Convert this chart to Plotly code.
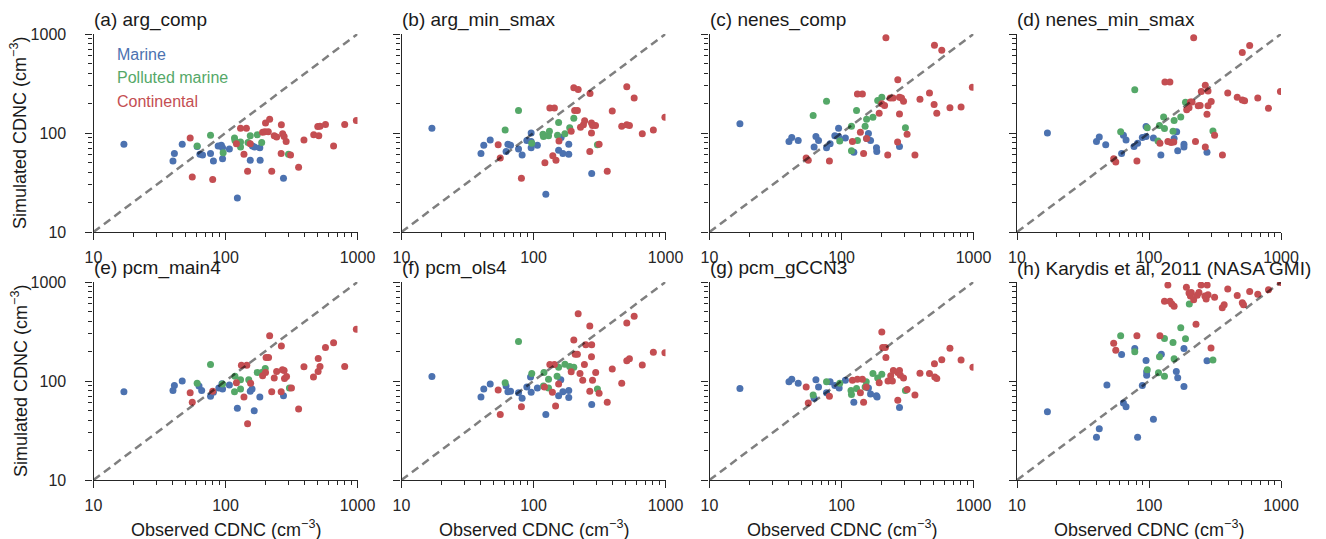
import plotly.graph_objects as go
from plotly.subplots import make_subplots

# ---------------- data (observed x, simulated y) ----------------
a_mar_x = [17, 47, 41, 40, 61, 64, 67, 77, 81, 88, 93, 95, 95, 107, 123, 154, 160, 166, 182, 183, 275]
a_mar_y = [77, 77, 62, 52, 73, 61, 60, 62, 52, 74, 75, 71, 55, 69, 22, 53, 74, 72, 71, 53, 35]
a_pol_x = [61, 77, 96, 117, 118, 130, 130, 148, 154, 174, 188, 300]
a_pol_y = [74, 95, 63, 89, 84, 81, 72, 80, 94, 96, 80, 61]
a_con_x = [54, 56, 80, 121, 130, 144, 138, 147, 154, 191, 201, 199, 211, 216, 224, 234, 244, 265, 271, 278,
           288, 264, 311, 358, 393, 466, 500, 509, 520, 572, 659, 800, 980]
a_con_y = [89, 36, 34, 78, 112, 112, 61, 41, 78, 102, 126, 103, 103, 138, 41, 94, 91, 121, 98, 92,
           82, 62, 60, 45, 85, 96, 116, 94, 117, 122, 74, 122, 134]

b_mar_x = [17, 40, 42, 47, 62, 64, 67, 77, 82, 89, 96, 96, 96, 107, 124, 155, 162, 167, 185, 185, 276]
b_mar_y = [112, 62, 75, 85, 65, 77, 75, 69, 60, 84, 100, 82, 71, 75, 24, 67, 90, 62, 77, 61, 39]
b_pol_x = [77, 61, 97, 119, 118, 130, 132, 152, 155, 173, 188, 202, 305]
b_pol_y = [169, 107, 79, 92, 97, 94, 104, 95, 128, 98, 113, 141, 76]
b_con_x = [54, 56, 81, 122, 133, 144, 140, 148, 156, 193, 202, 218, 205, 215, 227, 239, 244, 268, 267, 275,
           280, 295, 275, 314, 362, 395, 466, 509, 509, 533, 579, 667, 809, 990]
b_con_y = [76, 56, 35, 50, 179, 179, 59, 53, 83, 104, 286, 275, 169, 169, 114, 121, 133, 251, 65, 126,
           119, 119, 100, 77, 41, 167, 117, 293, 121, 119, 226, 98, 107, 144]

c_mar_x = [17, 40, 42, 47, 62, 64, 67, 77, 82, 89, 95, 95, 107, 124, 155, 160, 166, 184, 185, 275]
c_mar_y = [124, 82, 90, 84, 72, 92, 84, 71, 78, 94, 112, 92, 89, 64, 88, 99, 84, 71, 65, 73]
c_pol_x = [61, 77, 97, 119, 119, 130, 132, 151, 155, 173, 188, 202, 305]
c_pol_y = [150, 209, 83, 117, 66, 169, 84, 117, 138, 144, 213, 230, 113]
c_con_x = [54, 56, 81, 121, 132, 144, 139, 147, 155, 193, 202, 212, 217, 224, 234, 246, 267, 275, 285, 295,
           275, 266, 314, 360, 393, 464, 506, 575, 503, 527, 663, 805, 980]
c_con_y = [56, 53, 52, 82, 247, 247, 102, 62, 88, 158, 197, 190, 917, 60, 226, 226, 346, 230, 226, 209,
           156, 81, 97, 60, 219, 253, 771, 686, 194, 158, 180, 183, 289]

d_mar_x = [17, 40, 42, 47, 62, 64, 67, 77, 82, 89, 95, 95, 108, 123, 155, 162, 165, 184, 184, 275]
d_mar_y = [100, 82, 91, 76, 62, 95, 85, 73, 79, 90, 116, 92, 89, 60, 88, 103, 66, 77, 72, 64]
d_pol_x = [61, 78, 97, 117, 120, 131, 129, 152, 155, 174, 189, 305]
d_pol_y = [103, 273, 113, 83, 119, 111, 145, 104, 134, 145, 205, 105]
d_con_x = [54, 56, 81, 121, 132, 144, 139, 147, 154, 193, 201, 206, 212, 218, 225, 236, 244, 249, 267, 280,
           267, 275, 280, 296, 314, 360, 395, 466, 509, 579, 509, 530, 667, 804, 990]
d_con_y = [55, 51, 52, 79, 328, 328, 82, 80, 81, 172, 180, 206, 206, 917, 82, 189, 190, 263, 303, 265,
           72, 155, 189, 208, 95, 60, 253, 230, 649, 765, 216, 212, 226, 178, 263]

e_mar_x = [17, 40, 41, 47, 63, 66, 77, 81, 89, 94, 95, 107, 123, 154, 159, 165, 182, 275]
e_mar_y = [78, 80, 90, 100, 89, 80, 70, 77, 85, 94, 83, 91, 53, 79, 83, 50, 69, 71]
e_pol_x = [61, 77, 95, 117, 118, 130, 130, 150, 174, 188, 200, 305]
e_pol_y = [95, 147, 93, 78, 112, 103, 83, 103, 122, 122, 134, 85]
e_con_x = [54, 56, 80, 121, 132, 145, 155, 138, 147, 191, 201, 216, 203, 212, 224, 234, 244, 265, 270, 278,
           280, 290, 264, 316, 358, 393, 464, 504, 503, 520, 572, 659, 800, 980]
e_con_y = [76, 61, 79, 96, 144, 144, 95, 69, 37, 113, 122, 286, 173, 173, 78, 107, 125, 226, 130, 128,
           106, 111, 78, 85, 52, 139, 110, 169, 125, 140, 218, 243, 140, 333]

f_mar_x = [17, 40, 42, 47, 62, 64, 67, 77, 82, 89, 95, 96, 107, 124, 155, 161, 167, 185, 185, 276]
f_mar_y = [111, 69, 83, 93, 89, 78, 79, 76, 67, 87, 110, 77, 85, 46, 71, 103, 78, 80, 68, 58]
f_pol_x = [61, 77, 97, 119, 130, 120, 130, 151, 155, 173, 188, 202, 305]
f_pol_y = [96, 251, 119, 89, 85, 122, 104, 112, 138, 148, 140, 138, 83]
f_con_x = [54, 56, 81, 121, 133, 144, 139, 147, 155, 193, 202, 207, 215, 218, 225, 236, 243, 249, 267, 276,
           275, 280, 296, 267, 314, 362, 395, 466, 509, 579, 509, 533, 667, 809, 990]
f_con_y = [81, 46, 55, 87, 147, 147, 77, 56, 93, 124, 259, 186, 186, 478, 119, 102, 147, 232, 360, 232,
           176, 102, 122, 79, 75, 61, 132, 95, 386, 452, 160, 168, 145, 195, 193]

g_mar_x = [17, 40, 42, 47, 62, 64, 67, 77, 82, 89, 96, 107, 124, 155, 160, 166, 184, 186, 275]
g_mar_y = [84, 98, 104, 95, 67, 103, 87, 76, 98, 90, 85, 102, 61, 87, 85, 74, 71, 69, 54]
g_pol_x = [61, 77, 97, 118, 119, 130, 151, 154, 173, 188, 202, 305]
g_pol_y = [72, 98, 95, 80, 73, 84, 87, 98, 119, 107, 117, 80]
g_con_x = [54, 56, 81, 121, 132, 144, 139, 147, 154, 193, 202, 205, 215, 217, 225, 236, 243, 247, 267, 275,
           279, 295, 267, 314, 360, 393, 464, 506, 509, 527, 575, 663, 805, 990]
g_con_y = [87, 60, 70, 102, 104, 104, 76, 61, 87, 96, 313, 218, 218, 173, 100, 113, 100, 128, 122, 128,
           114, 107, 64, 82, 72, 120, 119, 149, 110, 106, 164, 214, 163, 138]

h_mar_x = [17, 40, 42, 48, 62, 64, 67, 78, 82, 89, 95, 96, 96, 108, 124, 161, 165, 184, 184, 275]
h_mar_y = [49, 27, 33, 91, 185, 60, 55, 213, 27, 90, 161, 124, 114, 41, 186, 125, 108, 88, 213, 160]
h_pol_x = [61, 78, 97, 118, 120, 131, 131, 152, 155, 174, 189, 202, 305]
h_pol_y = [286, 198, 130, 121, 176, 269, 112, 245, 168, 346, 267, 600, 163]
h_con_x = [54, 56, 81, 121, 131, 144, 149, 155, 139, 192, 201, 206, 209, 218, 232, 239, 248, 276, 265, 271,
           280, 314, 227, 295, 359, 371, 395, 466, 509, 520, 579, 667, 804, 990]
h_con_y = [241, 204, 286, 286, 639, 639, 600, 568, 931, 887, 776, 723, 785, 660, 735, 785, 931, 931, 723, 675,
           745, 700, 374, 216, 550, 590, 848, 730, 616, 590, 800, 750, 835, 990]

panel_titles = ["(a) arg_comp", "(b) arg_min_smax", "(c) nenes_comp", "(d) nenes_min_smax",
                "(e) pcm_main4", "(f) pcm_ols4", "(g) pcm_gCCN3", "(h) Karydis et al, 2011 (NASA GMI)"]
categories = ["Marine", "Polluted marine", "Continental"]
one_to_one = [10, 1000]
major_ticks = [10, 100, 1000]
major_labels = ["10", "100", "1000"]
minor_ticks = [20, 30, 40, 50, 60, 70, 80, 90, 200, 300, 400, 500, 600, 700, 800, 900]

panels = [
    [(a_mar_x, a_mar_y), (a_pol_x, a_pol_y), (a_con_x, a_con_y)],
    [(b_mar_x, b_mar_y), (b_pol_x, b_pol_y), (b_con_x, b_con_y)],
    [(c_mar_x, c_mar_y), (c_pol_x, c_pol_y), (c_con_x, c_con_y)],
    [(d_mar_x, d_mar_y), (d_pol_x, d_pol_y), (d_con_x, d_con_y)],
    [(e_mar_x, e_mar_y), (e_pol_x, e_pol_y), (e_con_x, e_con_y)],
    [(f_mar_x, f_mar_y), (f_pol_x, f_pol_y), (f_con_x, f_con_y)],
    [(g_mar_x, g_mar_y), (g_pol_x, g_pol_y), (g_con_x, g_con_y)],
    [(h_mar_x, h_mar_y), (h_pol_x, h_pol_y), (h_con_x, h_con_y)],
]

# ---------------- style ----------------
W, H = 1326, 539
colors = ["#4C72B0", "#55A868", "#C44E52"]
axis_col = "#262626"
FONT = "Liberation Sans, Arial, Helvetica, sans-serif"

col_left = [93.5, 401.5, 709.5, 1017]
panel_w = 264
row_top = [34, 282]
panel_h = 198


def px(x):
    return x / W


def py(y):
    return 1 - y / H


fig = make_subplots(rows=2, cols=4)

for i, series in enumerate(panels):
    r, c = i // 4 + 1, i % 4 + 1
    for (xs, ys), col, name in zip(series, colors, categories):
        fig.add_trace(go.Scatter(x=xs, y=ys, mode="markers", name=name, showlegend=False,
                                 marker=dict(color=col, size=7, line=dict(width=0)),
                                 hoverinfo="x+y"), row=r, col=c)
    fig.add_trace(go.Scatter(x=one_to_one, y=one_to_one, mode="lines", showlegend=False,
                             line=dict(color="rgba(0,0,0,0.5)", width=2.5, dash="8px,5px"),
                             hoverinfo="skip"), row=r, col=c)

axis_common = dict(
    type="log", range=[1, 3], tickmode="array", tickvals=major_ticks, ticktext=major_labels,
    ticks="outside", ticklen=7, tickwidth=1.25, tickcolor=axis_col,
    showline=True, linecolor=axis_col, linewidth=1.25, mirror=False,
    showgrid=False, zeroline=False, automargin=False,
    tickfont=dict(family=FONT, size=16, color=axis_col),
    minor=dict(tickmode="array", tickvals=minor_ticks, ticks="outside", ticklen=4,
               tickwidth=1, tickcolor=axis_col, showgrid=False),
)

for i in range(8):
    r, c = i // 4, i % 4
    n = "" if i == 0 else str(i + 1)
    x0 = col_left[c]
    y0 = row_top[r]
    fig.layout["xaxis" + n].update(axis_common, domain=[px(x0), px(x0 + panel_w)],
                                   ticklabelstandoff=4)
    fig.layout["yaxis" + n].update(axis_common, domain=[py(y0 + panel_h), py(y0)],
                                   ticklabelstandoff=16, showticklabels=(c == 0))

annotations = []
for i, t in enumerate(panel_titles):
    r, c = i // 4, i % 4
    annotations.append(dict(text=t, x=px(col_left[c] - 2), y=py(row_top[r] - 14),
                            xref="paper", yref="paper", xanchor="left", yanchor="middle",
                            showarrow=False, font=dict(family=FONT, size=19, color="#1a1a1a")))

# axis titles
for r in range(2):
    annotations.append(dict(text="Simulated CDNC (cm<sup>\u22123</sup>)", x=px(19),
                            y=py(row_top[r] + panel_h / 2), xref="paper", yref="paper",
                            xanchor="center", yanchor="middle", textangle=-90, showarrow=False,
                            font=dict(family=FONT, size=18, color="#1a1a1a")))
for c in range(4):
    annotations.append(dict(text="Observed CDNC (cm<sup>\u22123</sup>)", x=px(col_left[c] + panel_w / 2),
                            y=py(528), xref="paper", yref="paper",
                            xanchor="center", yanchor="middle", showarrow=False,
                            font=dict(family=FONT, size=18, color="#1a1a1a")))

# legend as coloured text in panel (a)
for k, (name, col) in enumerate(zip(categories, colors)):
    annotations.append(dict(text=name, x=px(115), y=py(54.5 + 23.5 * k), xref="paper", yref="paper",
                            xanchor="left", yanchor="middle", showarrow=False,
                            font=dict(family=FONT, size=16, color=col)))

fig.update_layout(width=W, height=H, margin=dict(l=0, r=0, t=0, b=0, pad=0, autoexpand=False),
                  paper_bgcolor="white", plot_bgcolor="white",
                  font=dict(family=FONT, color=axis_col),
                  annotations=annotations, showlegend=False)

# remove the browser's default 8px body margin so the figure sits at the page origin
fig.write_html("out.html",
               config={"displayModeBar": False},
               post_script="document.body.style.margin='0';"
                           "document.documentElement.style.overflow='hidden';")
